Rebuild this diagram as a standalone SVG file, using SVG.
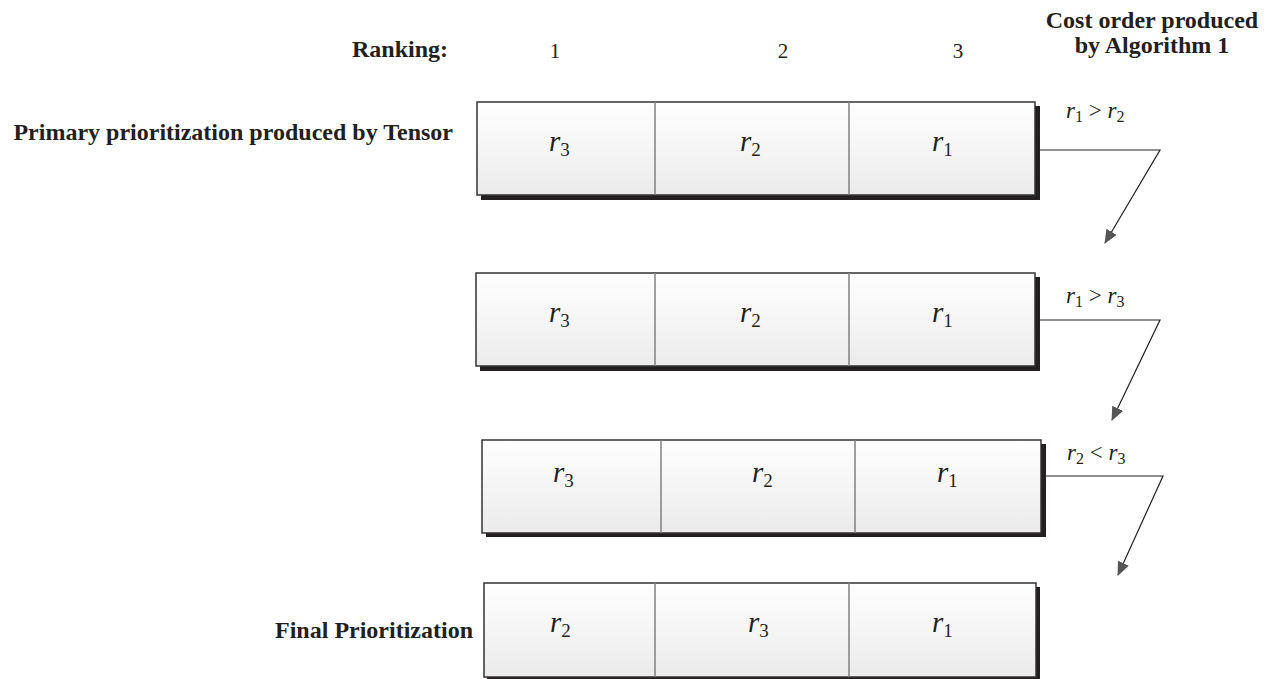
<svg xmlns="http://www.w3.org/2000/svg" width="1266" height="679" viewBox="0 0 1266 679">
  <style>
    .hdr { font-family: "Liberation Serif", "Times New Roman", serif; font-weight: bold; font-size: 24px; fill: #231f20; }
    .num { font-family: "Liberation Serif", "Times New Roman", serif; font-size: 21px; fill: #231f20; }
    .var { font-family: "Liberation Serif", "Times New Roman", serif; font-style: italic; font-size: 29px; fill: #231f20; }
    .sub { font-style: normal; font-size: 19px; }
    .rel { font-family: "Liberation Serif", "Times New Roman", serif; font-style: italic; font-size: 23px; fill: #231f20; }
    .rel .sub { font-size: 16px; }
    .rel .op { font-style: normal; }
    .shadow { fill: #231f20; }
    .frame { fill: url(#cellFill); stroke: #333; stroke-width: 1.5; }
    .div { stroke: #808080; stroke-width: 1.5; }
    .conn { fill: none; stroke: #231f20; stroke-width: 1.2; }
  </style>
  <defs>
    <linearGradient id="cellFill" x1="0" y1="0" x2="0" y2="1">
      <stop offset="0" stop-color="#ffffff"/>
      <stop offset="1" stop-color="#ebebeb"/>
    </linearGradient>
    <marker id="arrow" markerUnits="userSpaceOnUse" markerWidth="14" markerHeight="12" refX="13" refY="6" orient="auto">
      <path d="M0,0 L14,6 L0,12 Z" fill="#555"/>
    </marker>
  </defs>

  <!-- column headers -->
  <g id="headers">
    <text class="hdr" x="448" y="57" text-anchor="end">Ranking:</text>
    <text class="num" x="555" y="58" text-anchor="middle">1</text>
    <text class="num" x="783" y="58" text-anchor="middle">2</text>
    <text class="num" x="958" y="58" text-anchor="middle">3</text>
    <text class="hdr" x="1152" y="28" text-anchor="middle">Cost order produced</text>
    <text class="hdr" x="1152" y="53" text-anchor="middle">by Algorithm 1</text>
  </g>

  <!-- row 1: primary prioritization -->
  <g id="row1">
    <text class="hdr" x="453" y="140" text-anchor="end">Primary prioritization produced by Tensor</text>
    <rect class="shadow" x="481" y="106" width="559" height="94"/>
    <rect class="frame" x="477" y="102" width="558" height="93"/>
    <line class="div" x1="655" y1="102" x2="655" y2="195"/>
    <line class="div" x1="849" y1="102" x2="849" y2="195"/>
    <text class="var" x="549" y="151">r<tspan class="sub" dy="5">3</tspan></text>
    <text class="var" x="740" y="151">r<tspan class="sub" dy="5">2</tspan></text>
    <text class="var" x="932" y="151">r<tspan class="sub" dy="5">1</tspan></text>
  </g>

  <!-- row 2 -->
  <g id="row2">
    <rect class="shadow" x="480" y="277" width="560" height="94"/>
    <rect class="frame" x="476" y="273" width="559" height="93"/>
    <line class="div" x1="655" y1="273" x2="655" y2="366"/>
    <line class="div" x1="849" y1="273" x2="849" y2="366"/>
    <text class="var" x="549" y="322">r<tspan class="sub" dy="5">3</tspan></text>
    <text class="var" x="740" y="322">r<tspan class="sub" dy="5">2</tspan></text>
    <text class="var" x="932" y="322">r<tspan class="sub" dy="5">1</tspan></text>
  </g>

  <!-- row 3 -->
  <g id="row3">
    <rect class="shadow" x="486" y="444" width="560" height="93"/>
    <rect class="frame" x="482" y="440" width="559" height="93"/>
    <line class="div" x1="661" y1="440" x2="661" y2="533"/>
    <line class="div" x1="855" y1="440" x2="855" y2="533"/>
    <text class="var" x="553" y="482">r<tspan class="sub" dy="5">3</tspan></text>
    <text class="var" x="752" y="482">r<tspan class="sub" dy="5">2</tspan></text>
    <text class="var" x="937" y="482">r<tspan class="sub" dy="5">1</tspan></text>
  </g>

  <!-- row 4: final prioritization -->
  <g id="row4">
    <text class="hdr" x="473" y="638" text-anchor="end">Final Prioritization</text>
    <rect class="shadow" x="487" y="587" width="553" height="94"/>
    <rect class="frame" x="484" y="583" width="552" height="94"/>
    <line class="div" x1="655" y1="583" x2="655" y2="677"/>
    <line class="div" x1="849" y1="583" x2="849" y2="677"/>
    <text class="var" x="550" y="632">r<tspan class="sub" dy="5">2</tspan></text>
    <text class="var" x="748" y="632">r<tspan class="sub" dy="5">3</tspan></text>
    <text class="var" x="932" y="632">r<tspan class="sub" dy="5">1</tspan></text>
  </g>

  <!-- comparison connectors -->
  <g id="connectors">
    <polyline class="conn" points="1040,150 1160,150 1105,243" marker-end="url(#arrow)"/>
    <polyline class="conn" points="1040,320 1160,320 1112,420" marker-end="url(#arrow)"/>
    <polyline class="conn" points="1046,476 1163,476 1118,575" marker-end="url(#arrow)"/>
    <text class="rel" x="1066" y="118">r<tspan class="sub" dy="4">1</tspan><tspan class="op" dy="-4"> &gt; </tspan>r<tspan class="sub" dy="4">2</tspan></text>
    <text class="rel" x="1066" y="303">r<tspan class="sub" dy="4">1</tspan><tspan class="op" dy="-4"> &gt; </tspan>r<tspan class="sub" dy="4">3</tspan></text>
    <text class="rel" x="1067" y="460">r<tspan class="sub" dy="4">2</tspan><tspan class="op" dy="-4"> &lt; </tspan>r<tspan class="sub" dy="4">3</tspan></text>
  </g>
</svg>
